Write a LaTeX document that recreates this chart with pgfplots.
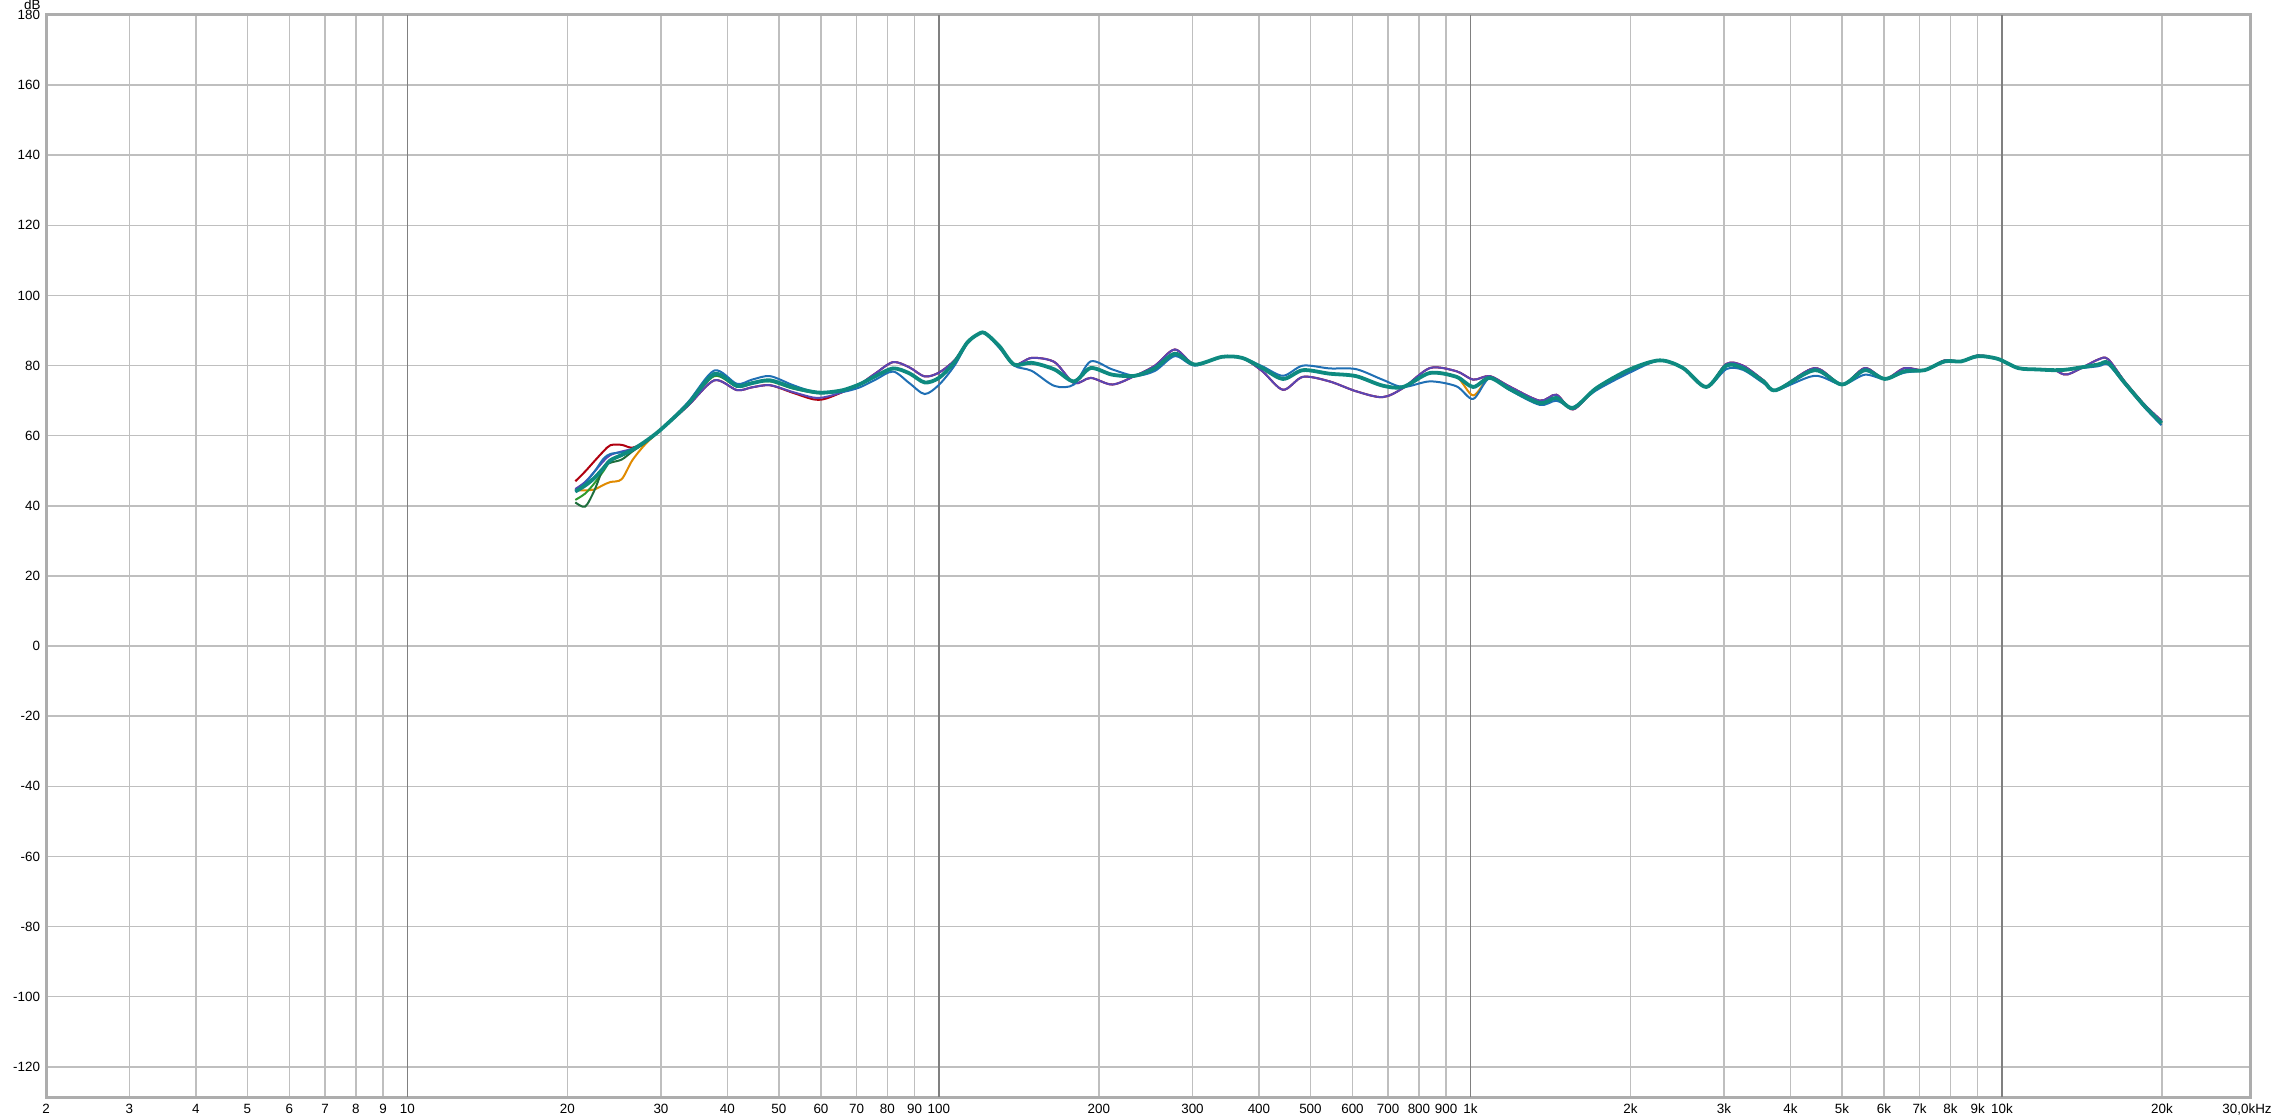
\documentclass[border=0pt]{standalone}
\usepackage{fontspec}
\setmainfont{Liberation Sans}
\usepackage{pgfplots}
\usepackage{pgfplotstable}
\pgfplotsset{compat=1.18}

\definecolor{cRed}{HTML}{B0000F}
\definecolor{cOrange}{HTML}{E08A00}
\definecolor{cGreen}{HTML}{2E9A2E}
\definecolor{cDGreen}{HTML}{1E6E3C}
\definecolor{cPurple}{HTML}{5A46B4}
\definecolor{cBlue}{HTML}{1F6FB4}
\definecolor{cTeal}{HTML}{0E8A80}

% f [Hz] and SPL [dB] of the measurements
\pgfplotstableread{
f      teal  purple blue  red   orange green dgreen
20.7   44.1  44.8  44.0  47.0  44.4  41.7  41.0
21.6   45.8  46.8  46.5  49.8  44.4  43.5  39.8
22.5   48.0  49.8  49.8  52.8  44.7  46.5  44.5
23.4   50.8  52.8  53.5  55.6  46.0  50.0  51.0
24.1   53.0  54.5  54.8  57.3  46.8  52.8  52.3
25.3   54.5  55.5  55.3  57.4  47.6  54.3  53.2
26.5   56.0  56.3  56.0  56.6  53.0  55.8  55.5
28     58.3  58.3  58.3  58.3  57.5  58.0  58.0
30     61.8  61.8  61.8  61.8  61.8  61.8  61.8
33.7   69.0  68.5  69.5  68.5  69.0  69.0  69.0
37.8   77.6  75.8  78.6  75.8  77.6  77.0  77.3
41.7   74.2  73.0  74.8  73.0  74.2  74.0  74.0
44.5   75.0  73.8  76.0  73.8  75.0  75.0  75.0
48.1   75.8  74.4  77.0  74.4  75.8  75.5  75.8
53     73.8  72.5  74.5  72.3  73.8  73.5  73.8
58     72.5  70.9  72.5  70.4  72.5  72.3  72.5
61     72.3  71.0  72.3  70.5  72.3  72.2  72.3
66     73.0  72.5  72.5  72.5  73.0  73.0  73.0
71     74.7  74.7  73.8  74.7  74.7  74.7  74.7
76     77.0  77.8  76.0  77.8  77.0  77.0  77.0
82     79.2  81.0  78.3  81.0  79.2  79.2  79.2
88     77.8  79.5  75.0  79.5  77.8  77.8  77.8
94     75.2  76.9  71.9  76.9  75.2  75.2  75.2
100    76.5  78.0  74.5  78.0  76.5  76.5  76.5
107    81.0  81.5  80.0  81.5  81.0  81.0  81.0
113    86.5  86.5  86.3  86.5  86.5  86.5  86.5
118    88.8  88.8  88.8  88.8  88.8  88.8  88.8
122    89.3  89.3  89.3  89.3  89.3  89.3  89.3
130    85.5  85.5  85.0  85.5  85.5  85.5  85.5
138.5  80.3  80.3  80.0  80.3  80.3  80.3  80.3
149.5  80.8  82.2  78.5  82.2  80.8  80.8  80.8
165    78.9  81.0  74.2  81.0  78.9  78.9  78.9
179.5  75.5  75.0  74.6  75.0  75.5  75.5  75.5
193    79.3  76.5  81.2  76.5  79.3  79.3  79.3
212    77.4  74.6  78.9  74.6  77.4  77.4  77.4
234    77.1  77.1  77.1  77.1  77.1  77.1  77.1
255    79.3  80.0  78.5  80.0  79.3  79.3  79.3
278    83.4  84.6  82.7  84.6  83.4  83.4  83.4
303    80.3  80.3  80.0  80.3  80.3  80.3  80.3
341    82.5  82.5  82.5  82.5  82.5  82.5  82.5
372    82.2  82.2  82.2  82.2  82.2  82.2  82.2
406    79.3  78.4  79.8  78.4  79.3  79.3  79.3
444    76.2  73.1  77.1  73.1  76.2  76.2  76.2
484    78.7  76.8  80.0  76.8  78.7  78.7  78.7
543    77.7  75.5  79.2  75.5  77.7  77.7  77.7
609    77.0  72.7  79.0  72.7  77.0  77.0  77.0
683    74.3  71.0  76.0  71.0  74.3  74.3  74.3
747    73.9  73.6  73.9  73.6  73.9  73.9  73.9
839    77.9  79.3  75.5  79.3  77.9  77.9  77.9
941    76.8  78.4  74.1  78.4  76.8  76.8  76.8
1012   73.9  76.0  70.5  76.0  71.5  73.9  73.9
1087   76.5  77.0  76.5  77.0  76.5  76.5  76.5
1186   73.3  74.0  73.0  74.0  73.3  73.3  73.3
1350   69.3  70.0  68.8  70.0  69.3  69.3  69.3
1451   70.8  71.7  70.0  71.7  70.8  70.8  70.8
1560   67.9  67.5  68.2  67.5  67.9  67.9  67.9
1727   73.6  73.6  73.0  73.6  73.6  73.6  73.6
1994   78.9  78.5  78.0  78.5  78.9  78.9  78.9
2270   81.5  81.5  81.5  81.5  81.5  81.5  81.5
2512   79.3  79.3  79.3  79.3  79.3  79.3  79.3
2778   73.9  73.9  73.9  73.9  73.9  73.9  73.9
3030   80.0  80.5  79.0  80.5  80.0  80.0  80.0
3255   79.3  80.0  78.8  80.0  79.3  79.3  79.3
3560   75.5  75.8  75.0  75.8  75.5  75.5  75.5
3760   73.0  73.0  73.0  73.0  73.0  73.0  73.0
4440   78.7  79.3  77.1  79.3  78.7  78.7  78.7
5000   74.6  74.6  74.6  74.6  74.6  74.6  74.6
5520   78.7  79.3  77.4  79.3  78.7  78.7  78.7
6020   76.2  76.2  76.2  76.2  76.2  76.2  76.2
6560   78.4  79.3  78.0  79.3  78.4  78.4  78.4
7150   78.7  78.7  78.7  78.7  78.7  78.7  78.7
7800   81.2  81.5  81.0  81.5  81.2  81.2  81.2
8380   81.2  81.2  81.2  81.2  81.2  81.2  81.2
9010   82.7  82.9  82.5  82.9  82.7  82.7  82.7
9830   81.9  81.9  81.9  81.9  81.9  81.9  81.9
10720  79.3  79.3  79.3  79.3  79.3  79.3  79.3
11690  78.9  78.9  78.9  78.9  78.9  78.9  78.9
12560  78.7  78.7  78.7  78.7  78.7  78.7  78.7
13300  78.9  77.5  78.9  77.5  78.9  78.9  78.9
15150  80.3  81.7  79.8  81.7  80.3  80.3  80.3
15840  80.8  81.8  80.3  81.8  80.8  80.8  80.8
17010  75.1  75.5  74.8  75.5  75.1  75.1  75.1
18560  68.4  68.8  68.0  68.8  68.4  68.4  68.4
19960  63.6  64.3  63.0  64.3  63.6  63.6  63.6
}\spl

\begin{document}
\begin{tikzpicture}[lbl/.style={font=\fontsize{6.7}{8}\selectfont, inner sep=0pt}]
\path[use as bounding box] (-23pt,-11pt) rectangle (1113.5pt,548.5pt);
\begin{axis}[
  at={(0,0)}, anchor=south west,
  scale only axis, width=1102pt, height=541pt,
  xmode=log, xmin=2.09, xmax=29300, ymin=-128.6, ymax=180,
  xtick={2.09,3,4,5,6,7,8,9,20,30,40,50,60,70,80,90,200,300,400,500,600,700,800,900,
         2000,3000,4000,5000,6000,7000,8000,9000,20000},
  xticklabels={2,3,4,5,6,7,8,9,20,30,40,50,60,70,80,90,200,300,400,500,600,700,800,900,
         2k,3k,4k,5k,6k,7k,8k,9k,20k},
  extra x ticks={10,100,1000,10000},
  extra x tick labels={10,100,1k,10k},
  extra x tick style={major grid style={draw=black!50, line width=0.8pt}},
  ytick={-120,-100,...,180},
  grid=major,
  major grid style={draw=black!25, line width=0.75pt},
  major tick length=0pt,
  axis line style={draw=black!32, line width=1.5pt},
  ticklabel style={font=\fontsize{6.7}{8}\selectfont},
  xticklabel style={anchor=north, inner sep=0pt, yshift=-3.4pt},
  yticklabel style={anchor=east, inner sep=0pt, xshift=-2.8pt},
  /pgf/number format/assume math mode=true,
  every axis plot/.append style={smooth, tension=0.5, line width=1pt},
]
\addplot[cRed]    table[x=f, y=red]    {\spl};
\addplot[cOrange] table[x=f, y=orange] {\spl};
\addplot[cGreen]  table[x=f, y=green]  {\spl};
\addplot[cDGreen] table[x=f, y=dgreen] {\spl};
\addplot[cPurple] table[x=f, y=purple] {\spl};
\addplot[cBlue]   table[x=f, y=blue]   {\spl};
\addplot[cTeal, line width=1.9pt] table[x=f, y=teal] {\spl};
\end{axis}
\node[lbl, anchor=south east] at (-2.5pt,543.5pt) {dB};
\node[lbl, anchor=north east] at (1113pt,-3.4pt) {30,0kHz};
\end{tikzpicture}
\end{document}
